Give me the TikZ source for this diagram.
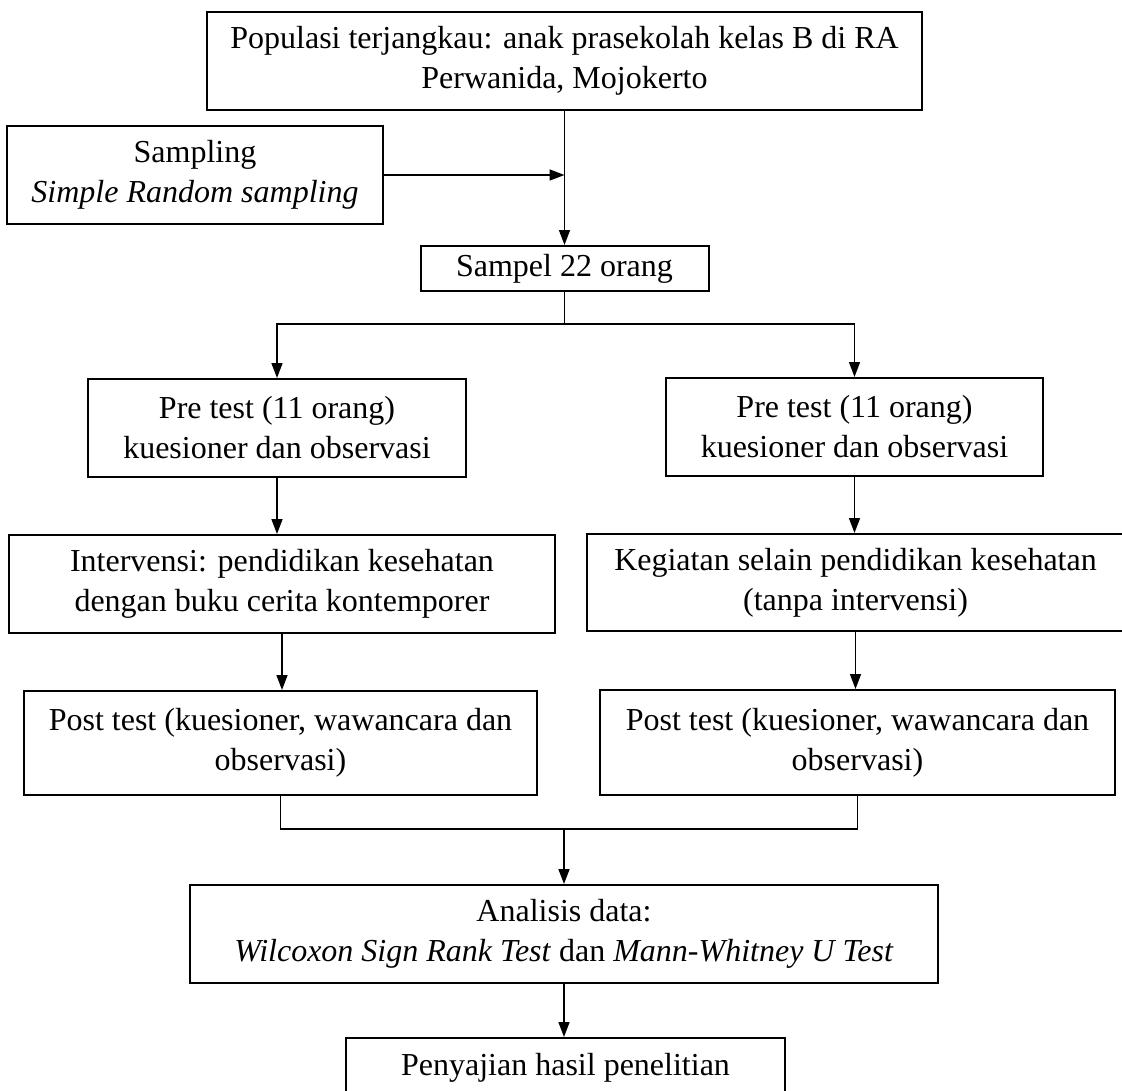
\documentclass[tikz,border=0pt]{standalone}
\usepackage{fontspec}
\setmainfont{Liberation Serif}
\usetikzlibrary{arrows.meta,calc}
\begin{document}
\begin{tikzpicture}[x=1pt,y=-1pt,
  box/.style={draw,line width=2pt,align=center,inner sep=0pt,font=\fontsize{32}{40}\selectfont},
  conn/.style={line width=1.5pt},
  arr/.style={line width=1.5pt,-{Triangle[length=15pt,width=11pt]}}]
\useasboundingbox (0,0) rectangle (1122,1090);
\fill[white] (0,0) rectangle (1122,1090);
\node[box,minimum width=715pt,minimum height=98pt] (top) at (564.5,61) {Populasi terjangkau: anak prasekolah kelas B di RA\\Perwanida, Mojokerto};
\node[box,minimum width=376pt,minimum height=98pt] (samp) at (195,175) {Sampling\\\textit{Simple Random sampling}};
\node[box,minimum width=288pt,minimum height=45pt] (sampel) at (564.5,268.5) {Sampel 22 orang};
\node[box,minimum width=378pt,minimum height=98pt] (preL) at (277,428) {Pre test (11 orang)\\kuesioner dan observasi};
\node[box,minimum width=377pt,minimum height=98pt] (preR) at (854.5,427) {Pre test (11 orang)\\kuesioner dan observasi};
\node[box,minimum width=546pt,minimum height=98pt] (intL) at (282,584) {Intervensi: pendidikan kesehatan\\dengan buku cerita kontemporer};
\node[box,minimum width=537pt,minimum height=97pt] (intR) at (855.5,582.5) {Kegiatan selain pendidikan kesehatan\\(tanpa intervensi)};
\node[box,minimum width=513pt,minimum height=104pt] (postL) at (280.5,743) {Post test (kuesioner, wawancara dan\\observasi)};
\node[box,minimum width=515pt,minimum height=105pt] (postR) at (857.5,742.5) {Post test (kuesioner, wawancara dan\\observasi)};
\node[box,minimum width=748pt,minimum height=98pt] (anal) at (564,934) {Analisis data:\\\textit{Wilcoxon Sign Rank Test} dan \textit{Mann-Whitney U Test}};
\node[box,minimum width=439pt,minimum height=60pt] (pen) at (565.5,1068) {Penyajian hasil penelitian};
% connectors
\coordinate (join) at (top.south |- samp.east);
\draw[arr] (top.south) -- (sampel.north);
\draw[arr] (samp.east) -- (join);
\coordinate (split) at ($(sampel.south)+(0,32)$);
\draw[conn] (sampel.south) -- (split);
\draw[arr] (split) -| (preL.north);
\draw[arr] (split) -| (preR.north);
\draw[arr] (preL.south) -- (preL.south |- intL.north);
\draw[arr] (preR.south) -- (preR.south |- intR.north);
\draw[arr] (intL.south) -- (intL.south |- postL.north);
\draw[arr] (intR.south) -- (intR.south |- postR.north);
\coordinate (mergeL) at ($(postL.south)+(0,33)$);
\coordinate (merge) at (anal.north |- mergeL);
\draw[conn] (postL.south) -- (mergeL) -| (postR.south);
\draw[arr] (merge) -- (anal.north);
\draw[arr] (anal.south) -- (anal.south |- pen.north);
\end{tikzpicture}
\end{document}
